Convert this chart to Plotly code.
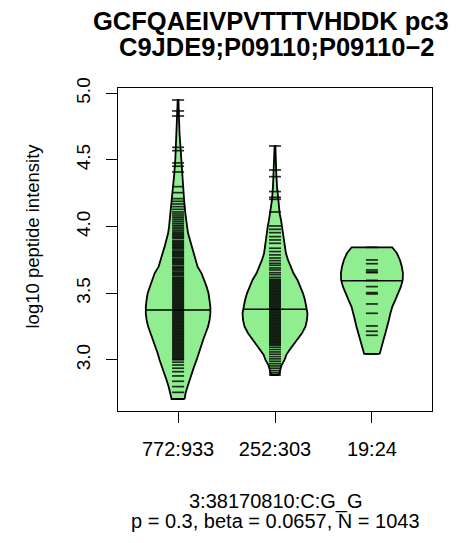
import numpy as np
import plotly.graph_objects as go

# ---------------- data ----------------
group_labels = ["772:933", "252:303", "19:24"]
group_positions = [1, 2, 3]

y_tick_values = [3.0, 3.5, 4.0, 4.5, 5.0]
y_tick_labels = ["3.0", "3.5", "4.0", "4.5", "5.0"]

# individual observations (beanlines), log10 peptide intensity
values_772_933 = [
    4.950, 4.868, 4.830, 4.595, 4.570, 4.478, 4.453, 4.410, 4.300, 4.255,
    4.210, 4.190, 4.170, 4.150, 4.130, 4.110, 4.095, 4.080, 4.066, 4.052,
    4.038, 4.024, 4.010, 3.997, 3.984, 3.971, 3.959,
    3.948, 3.939, 3.929, 3.920, 3.911, 3.895, 3.886, 3.877, 3.868, 3.859,
    3.850, 3.841, 3.832, 3.818, 3.809, 3.800, 3.791, 3.782, 3.773, 3.759,
    3.750, 3.741, 3.732, 3.723, 3.714, 3.700, 3.691, 3.682, 3.673, 3.660,
    3.651, 3.642, 3.633, 3.620, 3.611, 3.602, 3.593, 3.584, 3.575, 3.566,
    3.557, 3.548, 3.539, 3.530, 3.521, 3.512, 3.503, 3.494, 3.485, 3.476,
    3.467, 3.458, 3.449, 3.440, 3.431, 3.422, 3.413, 3.404, 3.395, 3.386,
    3.377, 3.368, 3.359, 3.350, 3.341, 3.332, 3.323, 3.314, 3.305, 3.296,
    3.287, 3.278, 3.269, 3.260, 3.251, 3.242, 3.233, 3.224, 3.215, 3.206,
    3.197, 3.188, 3.179, 3.170, 3.161, 3.152, 3.143, 3.134, 3.125, 3.116,
    3.107, 3.098, 3.089, 3.080, 3.071, 3.062, 3.053, 3.044, 3.035, 3.026,
    3.017, 3.008, 3.001,
    2.983, 2.962, 2.938, 2.912, 2.880, 2.840, 2.800, 2.757, 2.707,
]
values_252_303 = [
    4.605, 4.425, 4.375, 4.263, 4.220, 4.205, 4.110, 4.005, 3.980, 3.955,
    3.925, 3.900, 3.875, 3.838, 3.813, 3.788, 3.765, 3.745, 3.725, 3.710,
    3.690, 3.675, 3.655, 3.640, 3.620,
    3.605, 3.596, 3.587, 3.578, 3.569, 3.560, 3.551, 3.542, 3.533, 3.524,
    3.515, 3.506, 3.497, 3.488, 3.479, 3.470, 3.461, 3.452, 3.443, 3.434,
    3.425, 3.416, 3.407, 3.398, 3.389, 3.380, 3.371, 3.362, 3.353, 3.344,
    3.335, 3.326, 3.317, 3.308, 3.299, 3.290, 3.281, 3.272, 3.263, 3.254,
    3.245, 3.236, 3.227, 3.218, 3.209, 3.200, 3.191, 3.182, 3.173, 3.164,
    3.155, 3.146, 3.137, 3.128, 3.119, 3.110,
    3.095, 3.078, 3.060, 3.043, 3.025, 3.008, 2.990, 2.972, 2.955, 2.938,
    2.920, 2.903, 2.887,
]
values_19_24 = [
    3.845, 3.750, 3.722, 3.675, 3.660, 3.655, 3.597, 3.550, 3.505, 3.495,
    3.420, 3.350, 3.255, 3.215, 3.185, 3.045,
]

# bean outlines: density half-width (x units) at intensity levels
bean1_levels = [2.707, 2.75, 2.80, 2.85, 2.90, 2.95, 3.00, 3.05, 3.10, 3.15,
                3.20, 3.25, 3.30, 3.35, 3.40, 3.45, 3.50, 3.55, 3.60, 3.65,
                3.70, 3.75, 3.80, 3.85, 3.90, 3.95, 4.00, 4.05, 4.10, 4.20,
                4.30, 4.40, 4.50, 4.60, 4.70, 4.80, 4.90, 4.95]
bean1_halfwidth = [0.067, 0.077, 0.098, 0.119, 0.139, 0.165, 0.191, 0.211, 0.232, 0.258,
                   0.284, 0.309, 0.325, 0.333, 0.333, 0.325, 0.314, 0.294, 0.268, 0.242,
                   0.201, 0.180, 0.160, 0.139, 0.119, 0.103, 0.093, 0.082, 0.075, 0.062,
                   0.052, 0.039, 0.029, 0.022, 0.015, 0.010, 0.006, 0.004]

bean2_levels = [2.887, 2.92, 2.96, 3.00, 3.04, 3.08, 3.12, 3.16, 3.20, 3.25,
                3.30, 3.35, 3.40, 3.45, 3.50, 3.55, 3.60, 3.65, 3.70, 3.75,
                3.80, 3.85, 3.90, 3.95, 4.00, 4.05, 4.10, 4.20, 4.30, 4.40,
                4.50, 4.605]
bean2_halfwidth = [0.041, 0.052, 0.067, 0.098, 0.118, 0.155, 0.196, 0.237, 0.278, 0.314,
                   0.330, 0.335, 0.325, 0.309, 0.289, 0.263, 0.232, 0.191, 0.160, 0.134,
                   0.113, 0.103, 0.093, 0.086, 0.075, 0.062, 0.048, 0.031, 0.021, 0.013,
                   0.008, 0.004]

bean3_levels = [3.045, 3.10, 3.15, 3.20, 3.25, 3.30, 3.35, 3.40, 3.45, 3.50,
                3.55, 3.60, 3.65, 3.70, 3.75, 3.80, 3.845]
bean3_halfwidth = [0.080, 0.098, 0.119, 0.139, 0.160, 0.175, 0.191, 0.211, 0.242, 0.273,
                   0.299, 0.318, 0.320, 0.309, 0.289, 0.258, 0.209]

group_medians = [3.375, 3.380, 3.595]

title_line1 = "GCFQAEIVPVTTTVHDDK pc3"
title_line2 = "C9JDE9;P09110;P09110\u22122"
x_label_line1 = "3:38170810:C:G_G"
x_label_line2 = "p = 0.3, beta = 0.0657, N = 1043"
y_label = "log10 peptide intensity"

# ---------------- figure ----------------
BEAN_FILL = "#90EE90"
BEANLINE_HALF = 0.062
FONT = "Liberation Sans, Arial, Helvetica, sans-serif"

groups = [
    (values_772_933, bean1_levels, bean1_halfwidth),
    (values_252_303, bean2_levels, bean2_halfwidth),
    (values_19_24, bean3_levels, bean3_halfwidth),
]

fig = go.Figure()

for pos, (vals, levels, hw), med in zip(group_positions, groups, group_medians):
    lv = np.array(levels)
    w = np.array(hw)
    px = np.concatenate([pos + w, (pos - w)[::-1], [pos + w[0]]])
    py = np.concatenate([lv, lv[::-1], [lv[0]]])
    fig.add_trace(go.Scatter(
        x=px, y=py, mode="lines", fill="toself", fillcolor=BEAN_FILL,
        line=dict(color="black", width=1.8), hoverinfo="skip", showlegend=False,
    ))
    bx, by = [], []
    for v in vals:
        bx += [pos - BEANLINE_HALF, pos + BEANLINE_HALF, None]
        by += [v, v, None]
    fig.add_trace(go.Scatter(
        x=bx, y=by, mode="lines",
        line=dict(color="rgba(0,0,0,0.82)", width=1.7),
        hoverinfo="skip", showlegend=False,
    ))
    mw = float(np.interp(med, lv, w))
    fig.add_trace(go.Scatter(
        x=[pos - mw, pos + mw], y=[med, med], mode="lines",
        line=dict(color="black", width=1.5), hoverinfo="skip", showlegend=False,
    ))

fig.update_layout(
    width=458, height=543,
    margin=dict(l=118, r=26, t=88, b=132),
    paper_bgcolor="white", plot_bgcolor="white",
    showlegend=False,
    font=dict(family=FONT, color="black", size=20),
)

fig.update_xaxes(
    range=[0.38, 3.62], tickmode="array", tickvals=group_positions, ticktext=group_labels,
    ticks="outside", ticklen=11, tickwidth=1, tickcolor="black",
    showline=True, mirror=True, linecolor="black", linewidth=1,
    showgrid=False, zeroline=False, tickfont=dict(size=20),
    ticklabelstandoff=9,
)
fig.update_yaxes(
    range=[2.617, 5.040], tickmode="array", tickvals=y_tick_values, ticktext=y_tick_labels,
    ticks="outside", ticklen=11, tickwidth=1, tickcolor="black",
    showline=True, mirror=True, linecolor="black", linewidth=1,
    showgrid=False, zeroline=False, tickangle=-90, tickfont=dict(size=19),
    ticklabelstandoff=8,
)

# paper coordinate helpers (plot area: x 118..432, y 88..411 px)
def px2paper_x(p):
    return (p - 118) / 314.0

def px2paper_y(p):
    return (411 - p) / 323.0

fig.add_annotation(text=f"<b>{title_line1}</b>", xref="paper", yref="paper",
                   x=px2paper_x(270.5), y=px2paper_y(21), xanchor="center", yanchor="middle",
                   showarrow=False, font=dict(size=25.5))
fig.add_annotation(text=f"<b>{title_line2}</b>", xref="paper", yref="paper",
                   x=px2paper_x(276), y=px2paper_y(47), xanchor="center", yanchor="middle",
                   showarrow=False, font=dict(size=25.5))
fig.add_annotation(text=x_label_line1, xref="paper", yref="paper",
                   x=px2paper_x(275), y=px2paper_y(501), xanchor="center", yanchor="middle",
                   showarrow=False, font=dict(size=20))
fig.add_annotation(text=x_label_line2, xref="paper", yref="paper",
                   x=px2paper_x(275), y=px2paper_y(521), xanchor="center", yanchor="middle",
                   showarrow=False, font=dict(size=20))
fig.add_annotation(text=y_label, xref="paper", yref="paper",
                   x=px2paper_x(32), y=px2paper_y(236.5), xanchor="center", yanchor="middle",
                   textangle=-90, showarrow=False, font=dict(size=18.5))

fig.write_html("out.html", config={"displayModeBar": False},
               post_script="document.body.style.margin='0';")
